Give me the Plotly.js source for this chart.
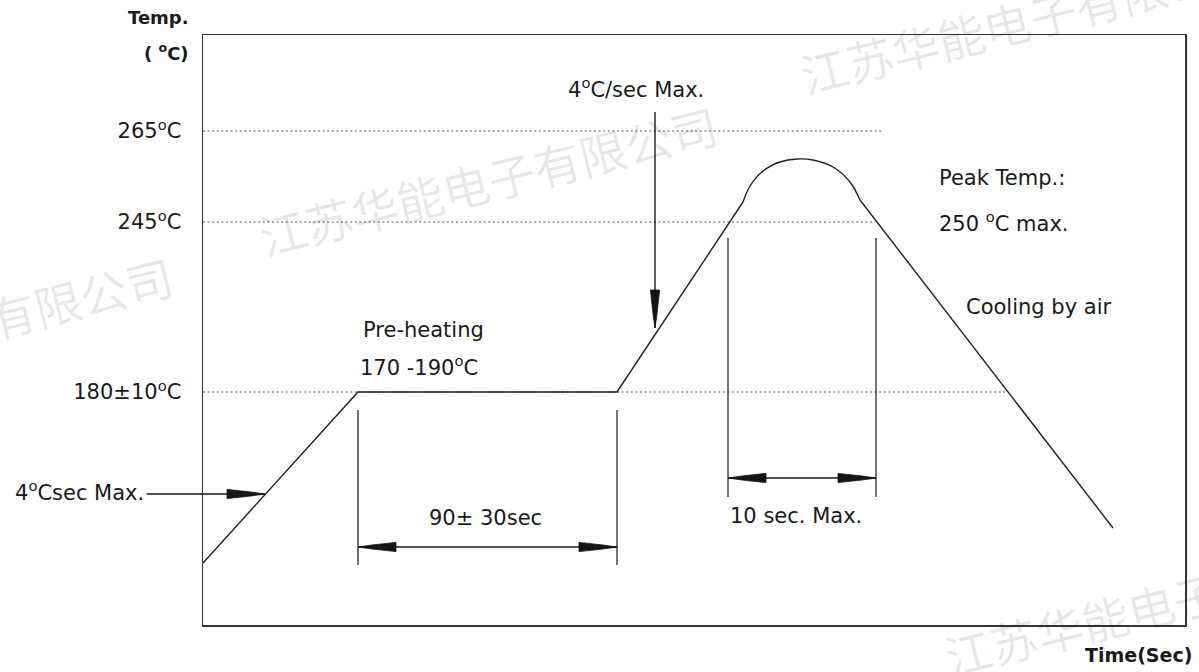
<!DOCTYPE html>
<html>
<head>
<meta charset="utf-8">
<script src="https://cdn.plot.ly/plotly-3.0.1.min.js"></script>
<style>html,body{margin:0;padding:0;background:#fff;}#chart{width:1199px;height:672px;}</style>
</head>
<body>
<div id="chart"></div>
<script>
// ---- Schematic data (x: time units, y: temperature level units) ----
const profileTime = [0, 155, 414, 540];
const profileTemp = [62, 233, 233, 423];
const peakTime = [540, 547, 560, 577, 594, 610, 630, 647, 657];
const peakTemp = [423, 439, 454, 463, 466, 465, 458, 443, 425];
const coolTime = [657, 910];
const coolTemp = [425, 97];

const refLevels = [494, 403, 233];
const refLabels = ['265<sup>o</sup>C', '245<sup>o</sup>C', '180±10<sup>o</sup>C'];
const refEnds = [679, 672, 802];

const guideTime = [155, 414, 525, 673];
const guideLow = [60, 60, 128, 128];
const guideHigh = [215, 215, 387, 387];

const spanStart = [155, 525];
const spanEnd = [414, 673];
const spanLevel = [78, 147];

const rampArrowFrom = [-58, 131];
const rampArrowTo = [62, 131];
const reflowArrowFrom = [452, 513];
const reflowArrowTo = [452, 297];

const xRange = [0, 982];
const yRange = [0, 590];

// ---- styles ----
const FONT = 'DejaVu Sans, Arial, sans-serif';
const INK = '#1a1a1a';
const textFont = {family: FONT, size: 21, color: INK};

const traces = [];

// reference (dotted) lines
refLevels.forEach((lv, i) => {
  traces.push({x: [xRange[0], refEnds[i]], y: [lv, lv], mode: 'lines', hoverinfo: 'skip',
    line: {color: '#555', width: 1.2, dash: '2px,2.6px'}});
});

// guide verticals
const gx = [], gy = [];
guideTime.forEach((t, i) => { gx.push(t, t, null); gy.push(guideLow[i], guideHigh[i], null); });
traces.push({x: gx, y: gy, mode: 'lines', hoverinfo: 'skip', line: {color: '#2a2a2a', width: 1.3}});

// dimension spans and reflow arrow shaft
const sx = [], sy = [];
spanStart.forEach((s, i) => { sx.push(s, spanEnd[i], null); sy.push(spanLevel[i], spanLevel[i], null); });
sx.push(reflowArrowFrom[0], reflowArrowTo[0], null); sy.push(reflowArrowFrom[1], reflowArrowTo[1], null);
traces.push({x: sx, y: sy, mode: 'lines', hoverinfo: 'skip', line: {color: '#1a1a1a', width: 1.4}});

// profile
traces.push({x: profileTime, y: profileTemp, mode: 'lines', hoverinfo: 'skip', line: {color: '#1f1f1f', width: 1.4}});
traces.push({x: peakTime, y: peakTemp, mode: 'lines', hoverinfo: 'skip', line: {color: '#1f1f1f', width: 1.4, shape: 'spline', smoothing: 1}});
traces.push({x: coolTime, y: coolTemp, mode: 'lines', hoverinfo: 'skip', line: {color: '#1f1f1f', width: 1.4}});

// arrowheads (dart shaped), built from tips and directions
function dart(tip, dir, ax, ay) {
  const L = 38, W = 4.6, m = 14, w = 2.0;
  const px = -dir[1], py = dir[0];
  const pts = [[0, 0], [m, w], [L, W], [L, -W], [m, -w], [0, 0]];
  pts.forEach(p => {
    ax.push(tip[0] + dir[0] * p[0] + px * p[1]);
    ay.push(tip[1] + dir[1] * p[0] + py * p[1]);
  });
  ax.push(null); ay.push(null);
}
const hx = [], hy = [];
spanStart.forEach((s, i) => {
  dart([s, spanLevel[i]], [1, 0], hx, hy);
  dart([spanEnd[i], spanLevel[i]], [-1, 0], hx, hy);
});
dart(rampArrowTo, [-1, 0], hx, hy);
dart(reflowArrowTo, [0, 1], hx, hy);
traces.push({x: hx, y: hy, mode: 'lines', fill: 'toself', fillcolor: '#151515', hoverinfo: 'skip',
  line: {color: '#151515', width: 0.8}});

// helpers for pixel-read label positions (paper coordinates)
const W0 = 203, H0 = 625, PW = 982, PH = 590;
const paperX = px => (px - W0) / PW;
const paperY = py => (H0 - py) / PH;

function label(text, px, py, xanchor, extra) {
  return Object.assign({text, x: paperX(px), y: paperY(py), xref: 'paper', yref: 'paper',
    xanchor: xanchor || 'left', yanchor: 'middle', showarrow: false, font: textFont}, extra || {});
}

const wmFont = {family: 'Noto Sans CJK SC, sans-serif', size: 47, color: 'rgba(0,0,0,0.09)'};
function wm(text, cx, cy) {
  return {text, x: paperX(cx), y: paperY(cy), xref: 'paper', yref: 'paper',
    xanchor: 'center', yanchor: 'middle', showarrow: false, textangle: -14, font: wmFont};
}

const annotations = [
  wm('江苏华能电子有限公司', 488, 179),
  wm('江苏华能电子有限公', 1006, 24),
  wm('有限公司', 80, 296),
  wm('江苏华能电子', 1082, 622),
  // ramp arrow shaft (extends outside frame)
  {x: rampArrowTo[0], y: rampArrowTo[1], xref: 'x', yref: 'y', axref: 'x', ayref: 'y',
   ax: rampArrowFrom[0], ay: rampArrowFrom[1], showarrow: true, arrowhead: 0, arrowwidth: 1.4,
   arrowcolor: '#1a1a1a', text: ''},
  label('4<sup>o</sup>C/sec Max.', 636, 88, 'center'),
  label('Peak Temp.:', 937, 178),
  label('250 <sup>o</sup>C max.', 937, 222),
  label('Cooling by air', 964, 307),
  label('10 sec. Max.', 728, 516),
  label('Pre-heating', 361, 330),
  label('170 -190<sup>o</sup>C', 358, 366),
  label('90± 30sec', 485, 518, 'center'),
  label('4<sup>o</sup>Csec Max.', 146, 491, 'right'),
  label('Temp.', 191, 17, 'right', {font: {family: FONT, size: 18, color: INK, weight: 'bold'}}),
  label('( <sup>o</sup>C)', 191, 52, 'right', {font: {family: FONT, size: 18, color: INK, weight: 'bold'}}),
  label('Time(Sec)', 1194, 655, 'right', {font: {family: FONT, size: 19, color: INK, weight: 'bold'}})
];

const layout = {
  width: 1199, height: 672,
  margin: {l: 203, r: 14, t: 35, b: 47, pad: 0},
  paper_bgcolor: '#fff', plot_bgcolor: '#fff',
  showlegend: false,
  xaxis: {range: xRange, showgrid: false, zeroline: false, showticklabels: false, ticks: '',
    showline: true, mirror: true, linecolor: '#333', linewidth: 1.5, fixedrange: true},
  yaxis: {range: yRange, showgrid: false, zeroline: false, ticks: '',
    tickvals: refLevels, ticktext: refLabels, tickfont: textFont, ticklabelstandoff: 16,
    showline: true, mirror: true, linecolor: '#333', linewidth: 1.5, fixedrange: true},
  annotations: annotations
};

Plotly.newPlot('chart', traces, layout, {displayModeBar: false, staticPlot: true});
</script>
</body>
</html>
